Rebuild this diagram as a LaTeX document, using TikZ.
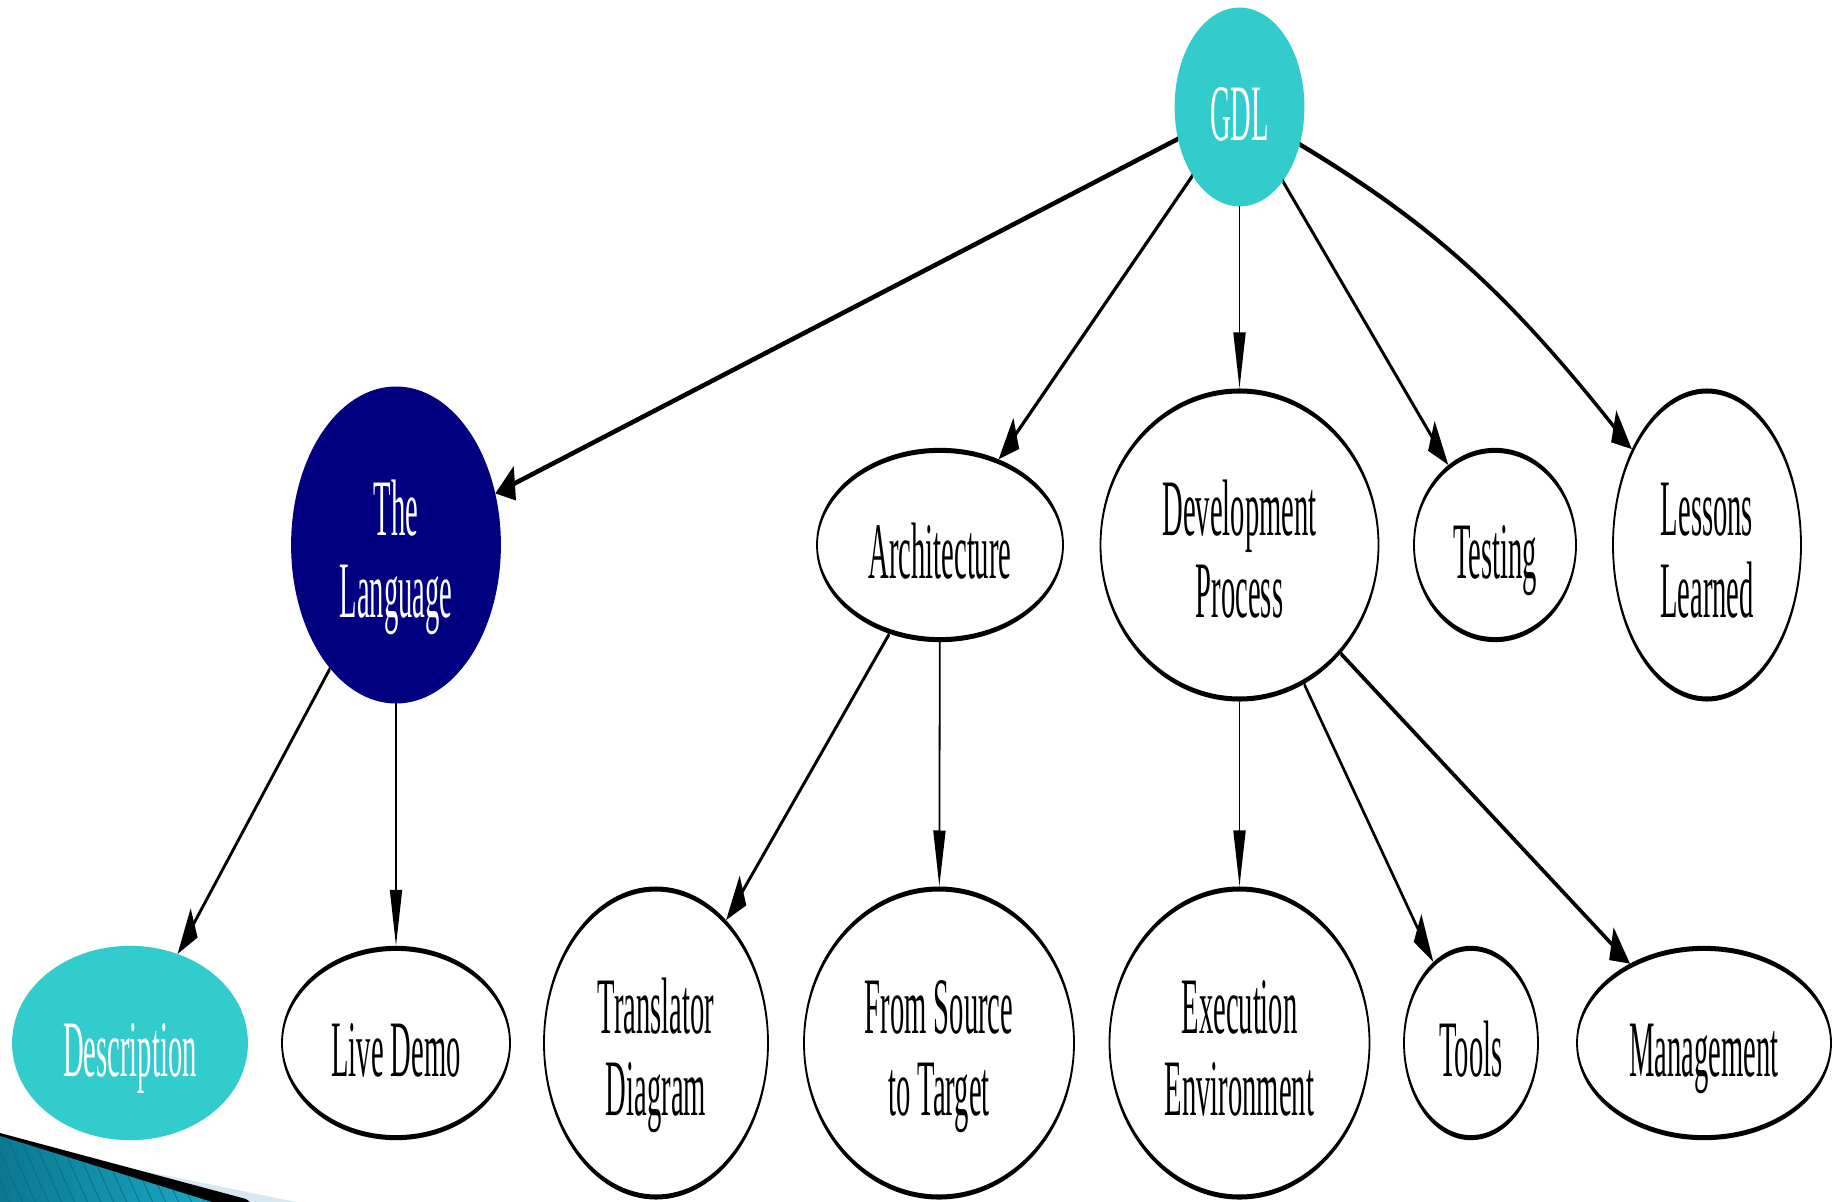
\documentclass[tikz,border=0pt]{standalone}
\usepackage{fontspec}
\setmainfont{Liberation Serif}
\usetikzlibrary{arrows.meta,shapes.geometric}
\definecolor{gdlteal}{HTML}{33CCCC}
\definecolor{gdlnavy}{HTML}{000080}
\definecolor{stripedark}{HTML}{0B7890}
\definecolor{stripelight}{HTML}{1CA9C6}
\definecolor{stripeline}{HTML}{0A6A80}
\definecolor{stripepale}{HTML}{D6E8F1}
\tikzset{
  topic/.style={ellipse, draw=black, line width=0.9pt, inner sep=0pt,
    align=center, font=\fontsize{14.3}{14.64}\selectfont,
    text height=12pt, text depth=0pt},
  short/.style={minimum height=33.8pt},
  tall/.style={minimum height=55pt, text height=25.8pt},
  tealnode/.style={fill=gdlteal, draw=gdlteal, text=white},
  navynode/.style={fill=gdlnavy, draw=gdlnavy, text=white},
  link/.style={-{Triangle[length=10pt,width=6pt]}, line width=0.9pt, draw=black}
}
\begin{document}
\begin{tikzpicture}[x=0.5pt,y=-0.5pt]
\useasboundingbox (0,0) rectangle (1837,1202);
\fill[white] (0,0) rectangle (1837,1202);

% the graph, drawn flat and stretched vertically
\begin{scope}[y=-0.178571pt, transform canvas={yscale=2.8}]
  \node[topic, tealnode, minimum width=64pt, minimum height=34.6pt] (gdl) at (1239.5,107) {GDL};

  \node[topic, tall, navynode, minimum width=104pt, minimum height=55.7pt] (lang) at (396,545) {The\\Language};
  \node[topic, short, minimum width=123pt] (arch) at (940,545) {Architecture};
  \node[topic, tall, minimum width=139pt] (dev) at (1239.5,545) {Development\\Process};
  \node[topic, short, minimum width=81pt] (test) at (1495,545) {Testing};
  \node[topic, tall, minimum width=94pt] (less) at (1707,545) {Lessons\\Learned};

  \node[topic, short, tealnode, minimum width=117pt] (desc) at (130,1043) {Description};
  \node[topic, short, minimum width=114pt] (live) at (396,1043) {Live Demo};
  \node[topic, tall, minimum width=112pt] (trans) at (656,1043) {Translator\\Diagram};
  \node[topic, tall, minimum width=135pt] (src) at (939,1043) {From Source\\to Target};
  \node[topic, tall, minimum width=130pt] (exec) at (1239.5,1043) {Execution\\Environment};
  \node[topic, short, minimum width=67pt] (tools) at (1471,1043) {Tools};
  \node[topic, short, minimum width=127pt] (mgmt) at (1704,1043) {Management};

  \draw[link] (gdl) -- (lang);
  \draw[link] (gdl) -- (arch);
  \draw[link] (gdl) -- (dev);
  \draw[link] (gdl) -- (test);
  \draw[link] (gdl) to[bend left=6] (less);
  \draw[link] (lang) -- (desc);
  \draw[link] (lang) -- (live);
  \draw[link] (arch) -- (trans);
  \draw[link] (arch) -- (src);
  \draw[link] (dev) -- (exec);
  \draw[link] (dev) -- (tools);
  \draw[link] (dev) -- (mgmt);
\end{scope}

% corner ribbon
\fill[stripepale] (100,1162) -- (296,1202) -- (100,1202) -- cycle;
\fill[black] (0,1133) -- (246,1199) -- (250,1202) -- (0,1202) -- cycle;
\begin{scope}
  \clip (0,1136) -- (212,1202) -- (0,1202) -- cycle;
  \shade[left color=stripedark, right color=stripelight] (0,1130) rectangle (215,1202);
  \foreach \s in {-40,-27,...,220}
    \draw[stripeline, line width=0.35pt] (\s,1120) -- ++(40,90);
\end{scope}
\end{tikzpicture}
\end{document}
